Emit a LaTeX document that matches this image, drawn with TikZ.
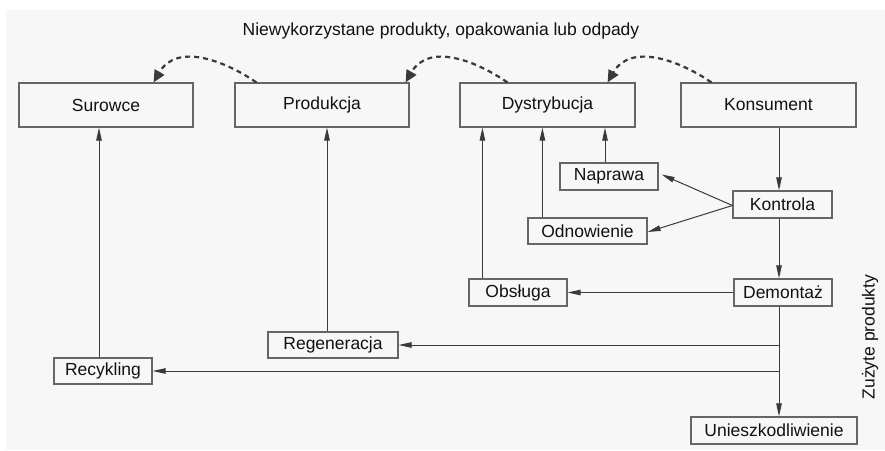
\documentclass[tikz,border=0pt]{standalone}
\usepackage{fontspec}
\setmainfont{Liberation Sans}
\usetikzlibrary{arrows.meta,calc}
\definecolor{bg}{HTML}{F7F7F7}
\definecolor{boxline}{HTML}{666666}
\definecolor{lineclr}{HTML}{3A3A3A}
\definecolor{txt}{HTML}{111111}
\begin{document}
\begin{tikzpicture}[x=1pt,y=-1pt,
  every node/.style={font=\fontsize{17.5}{20}\selectfont, text=txt},
  boxnode/.style={draw=boxline, line width=1.2pt, fill=bg, inner sep=0pt, align=center},
  bigbox/.style={boxnode, minimum width=174pt, minimum height=44pt},
  arr/.style={draw=lineclr, line width=1pt, -{Triangle[length=13pt,width=5.5pt]}},
  dasharr/.style={draw=lineclr, line width=2.2pt, dash pattern=on 5pt off 4pt,
     -{Triangle[length=12pt,width=11pt]}}]
\useasboundingbox (0,0) rectangle (885,450);
\fill[white] (0,0) rectangle (885,450);
\fill[bg] (6,10) rectangle (885,450);

\node[bigbox] (sur) at (106,105) {Surowce};
\node[bigbox] (prod) at (322,105) {Produkcja};
\node[bigbox, minimum width=175pt] (dys) at (547.5,105) {Dystrybucja};
\node[bigbox, minimum width=175pt] (kons) at (768.5,105) {Konsument};

\node[boxnode, minimum width=98pt, minimum height=27pt] (napr) at (609,176.5) {Naprawa};
\node[boxnode, minimum width=99pt, minimum height=27pt] (kontr) at (782.5,204.5) {Kontrola};
\node[boxnode, minimum width=119pt, minimum height=26pt] (odn) at (587.5,231) {Odnowienie};
\node[boxnode, minimum width=98pt, minimum height=27pt] (obs) at (518,292.5) {Obsługa};
\node[boxnode, minimum width=98pt, minimum height=27pt] (dem) at (783,292.5) {Demontaż};
\node[boxnode, minimum width=166pt, minimum height=27pt] (unie) at (774,430.5) {Unieszkodliwienie};
\node[boxnode, minimum width=130pt, minimum height=26pt] (regen) at (333,345) {Regeneracja};
\node[boxnode, minimum width=98pt, minimum height=26pt] (recyk) at (103,371) {Recykling};

\node (title) at (441,31) {Niewykorzystane produkty, opakowania lub odpady};
\node[rotate=90] (zuz) at (870,337) {Zużyte produkty};

\coordinate (vx) at (779,0);

% main vertical chain
\draw[arr] (vx |- kons.south) -- (vx |- kontr.north);
\draw[arr] (vx |- kontr.south) -- (vx |- dem.north);
\draw[arr] (vx |- dem.south) -- (vx |- unie.north);
\draw[arr] (vx |- regen.east) -- (regen.east);
\draw[arr] (vx |- recyk.east) -- (recyk.east);
\draw[arr] (dem.west) -- (obs.east);

% Kontrola to Naprawa / Odnowienie
\coordinate (kw) at ([yshift=-1pt]kontr.west);
\draw[arr] (kw) -- ([xshift=3pt,yshift=2pt]napr.east);
\draw[arr] (kw) -- ([yshift=-1pt]odn.east);

% up to Dystrybucja
\draw[arr] ([xshift=14pt]obs.north west) -- ([xshift=14pt]obs.north west |- dys.south);
\draw[arr] ([xshift=15pt]odn.north west) -- ([xshift=15pt]odn.north west |- dys.south);
\draw[arr] ([xshift=-4pt]napr.north) -- ([xshift=-4pt]napr.north |- dys.south);

% up to Produkcja and Surowce
\draw[arr] ([xshift=-6pt]regen.north) -- ([xshift=-6pt]regen.north |- prod.south);
\draw[arr] ([xshift=-4pt]recyk.north) -- ([xshift=-4pt]recyk.north |- sur.south);

% dashed return arrows
\draw[dasharr] ([xshift=22pt]prod.north west) .. controls +(-32,-22) and +(23,-40) .. ([xshift=-40pt]sur.north east);
\draw[dasharr] ([xshift=48pt]dys.north west) .. controls +(-32,-22) and +(23,-40) .. ([xshift=-4pt]prod.north east);
\draw[dasharr] ([xshift=31pt]kons.north west) .. controls +(-32,-22) and +(23,-40) .. ([xshift=-28pt]dys.north east);
\end{tikzpicture}
\end{document}
